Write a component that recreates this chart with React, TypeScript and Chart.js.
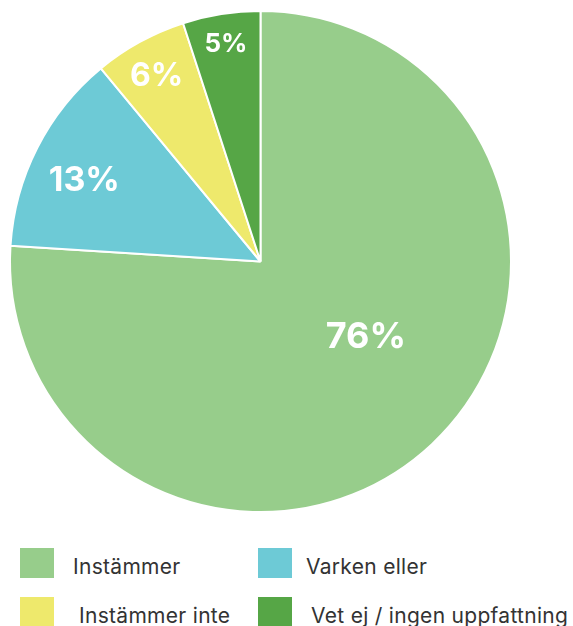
import React, { useEffect, useRef } from "react";
import { Chart, registerables } from "chart.js";

Chart.register(...registerables);

const categories = ["Instämmer", "Varken eller", "Instämmer inte", "Vet ej / ingen uppfattning"];
const values = [76, 13, 6, 5];
const valueLabels = ["76%", "13%", "6%", "5%"];
const colors = ["#97CD8B", "#6DCAD6", "#EEE96C", "#56A646"];

// label placement (fraction of radius, angular shift in degrees, font size)
const labelRadiusFrac = [0.517, 0.773, 0.847, 0.88];
const labelAngleShift = [-11.2, -2.5, -0.5, 0];
const labelFontSize = [36, 34, 32, 26];

const FONT = "Inter, 'DejaVu Sans', sans-serif";

const labelPlugin = {
  id: "sliceLabels",
  afterDatasetsDraw(chart: any) {
    const ctx = chart.ctx;
    const meta = chart.getDatasetMeta(0);
    meta.data.forEach((arc: any, i: number) => {
      const { x, y, startAngle, endAngle, outerRadius } = arc.getProps(
        ["x", "y", "startAngle", "endAngle", "outerRadius"],
        true
      );
      const mid = (startAngle + endAngle) / 2 + (labelAngleShift[i] * Math.PI) / 180;
      const r = outerRadius * labelRadiusFrac[i];
      const lx = x + Math.cos(mid) * r;
      const ly = y + Math.sin(mid) * r;
      ctx.save();
      ctx.fillStyle = "#ffffff";
      ctx.font = `700 ${labelFontSize[i]}px ${FONT}`;
      ctx.textAlign = "center";
      ctx.textBaseline = "middle";
      ctx.fillText(valueLabels[i], lx, ly);
      ctx.restore();
    });
  },
};

const legendPos = [
  { left: 20, top: 548, gap: 19 },
  { left: 258, top: 548, gap: 14 },
  { left: 20, top: 597, gap: 25 },
  { left: 258, top: 597, gap: 19 },
];

export default function App() {
  const canvasRef = useRef<HTMLCanvasElement | null>(null);

  useEffect(() => {
    if (!canvasRef.current) return;
    const chart = new Chart(canvasRef.current, {
      type: "pie",
      data: {
        labels: categories,
        datasets: [
          {
            data: values,
            backgroundColor: colors,
            borderColor: "#ffffff",
            borderWidth: 2,
          },
        ],
      },
      options: {
        animation: false,
        responsive: false,
        maintainAspectRatio: false,
        layout: { padding: { left: 9, right: 61, top: 10, bottom: 17 } },
        plugins: {
          legend: { display: false },
          tooltip: { enabled: false },
        },
      },
      plugins: [labelPlugin],
    });
    return () => chart.destroy();
  }, []);

  return (
    <div
      style={{
        position: "fixed",
        left: 0,
        top: 0,
        width: 573,
        height: 626,
        background: "#ffffff",
        overflow: "hidden",
      }}
    >
      <canvas ref={canvasRef} width={573} height={530} style={{ display: "block" }} />
      {categories.map((c, i) => (
        <div
          key={c}
          style={{
            position: "absolute",
            left: legendPos[i].left,
            top: legendPos[i].top,
            display: "flex",
            alignItems: "center",
            height: 30,
            whiteSpace: "nowrap",
          }}
        >
          <div style={{ width: 34, height: 30, background: colors[i], flexShrink: 0 }} />
          <span
            style={{
              marginLeft: legendPos[i].gap,
              fontFamily: FONT,
              fontSize: 21,
              letterSpacing: 0.3,
              color: "#333333",
              position: "relative",
              top: 3,
            }}
          >
            {c}
          </span>
        </div>
      ))}
    </div>
  );
}
